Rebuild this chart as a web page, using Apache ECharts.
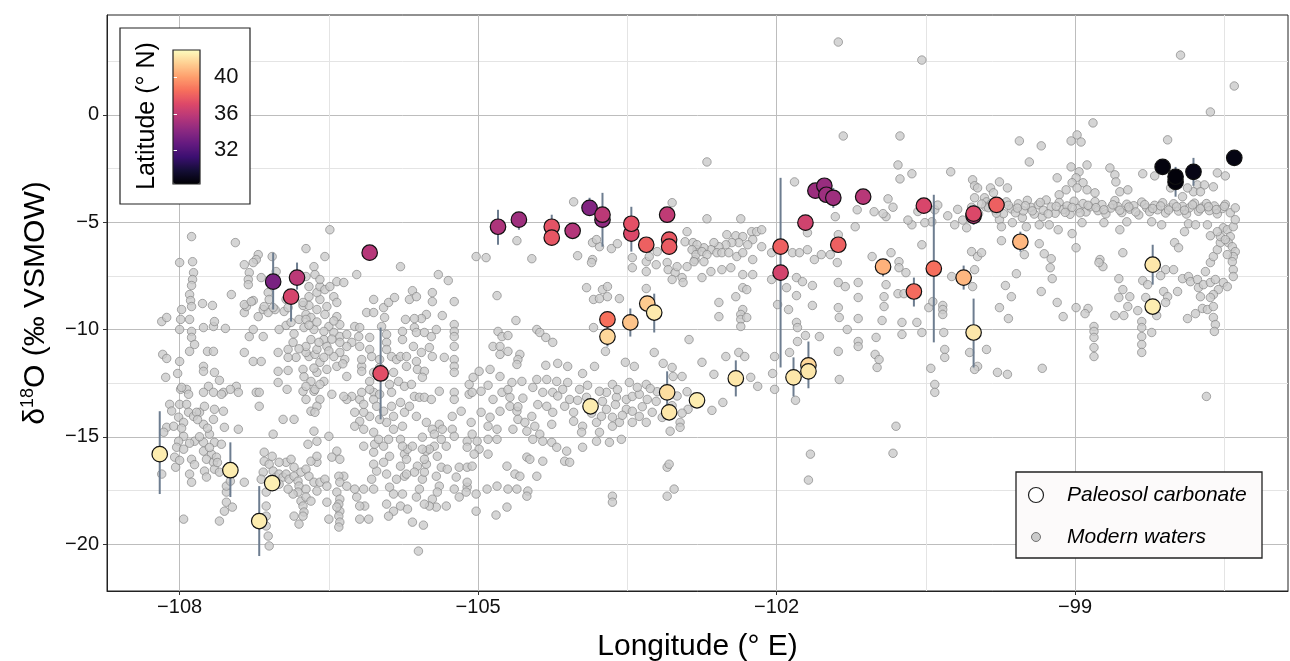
<!DOCTYPE html>
<html>
<head>
<meta charset="utf-8">
<script src="https://cdn.jsdelivr.net/npm/echarts@6/dist/echarts.min.js"></script>
<style>
  html, body { margin: 0; padding: 0; background: #ffffff; }
  #chart { width: 1290px; height: 661px; }
</style>
</head>
<body>
<div id="chart"></div>
<script>
// axis ticks
const lonTicks = [-108, -105, -102, -99];
const lonMinor = [-106.5, -103.5, -100.5, -97.5];
const isoTicks = [0, -5, -10, -15, -20];
const isoMinor = [2.5, -2.5, -7.5, -12.5, -17.5];
const latTicks = [32, 36, 40];

// paleosol carbonate: [longitude, d18O, latitude]
const paleoPoints = [
  [-108.20, -15.81, 42.5], [-107.49, -16.56, 42.5], [-107.20, -18.93, 42.5], [-107.07, -17.16, 42.6],
  [-107.06, -7.77, 33.5], [-106.88, -8.47, 36.8], [-106.82, -7.58, 35.8], [-106.09, -6.42, 35.6],
  [-105.98, -12.05, 37.3], [-104.80, -5.21, 35.3], [-104.59, -4.88, 34.8], [-104.26, -5.21, 37.5],
  [-104.26, -5.72, 37.6], [-104.05, -5.40, 35.5], [-103.88, -4.33, 33.8], [-103.75, -4.88, 34.3],
  [-103.75, -4.65, 35.8], [-103.46, -5.53, 37.0], [-103.46, -5.07, 37.4], [-103.31, -6.05, 38.0],
  [-103.10, -4.65, 36.0], [-103.08, -5.81, 37.7], [-103.08, -6.14, 37.8], [-103.70, -9.53, 38.6],
  [-103.70, -10.33, 41.8], [-103.47, -9.67, 41.2], [-103.30, -8.79, 41.4], [-103.23, -9.21, 42.4],
  [-103.10, -12.93, 42.0], [-103.08, -13.86, 42.3], [-103.87, -13.58, 42.5], [-102.80, -13.30, 42.5],
  [-102.41, -12.28, 42.3], [-101.96, -7.35, 36.7], [-101.96, -6.14, 38.0], [-101.71, -5.02, 36.6],
  [-101.61, -3.53, 34.7], [-101.52, -3.30, 34.6], [-101.50, -3.72, 34.8], [-101.43, -3.86, 34.8],
  [-101.13, -3.81, 35.7], [-101.38, -6.05, 38.0], [-100.93, -7.07, 40.6], [-100.62, -8.23, 38.4],
  [-100.42, -7.16, 38.5], [-100.12, -7.58, 40.8], [-100.02, -10.14, 42.3], [-100.52, -4.23, 36.9],
  [-100.02, -4.70, 35.6], [-100.02, -4.60, 37.0], [-99.79, -4.19, 38.0], [-99.55, -5.91, 40.8],
  [-98.22, -6.98, 42.3], [-98.22, -8.93, 42.5], [-101.83, -12.23, 42.3], [-101.68, -11.67, 41.8],
  [-101.68, -11.95, 42.3], [-98.12, -2.42, 28.6], [-97.99, -3.12, 28.5], [-97.99, -2.88, 28.5],
  [-97.81, -2.65, 28.8], [-97.40, -2.00, 28.7]
];

// paleosol uncertainty: [longitude, upper d18O, lower d18O]
const paleoErrors = [
  [-108.20, -13.81, -17.67], [-107.49, -15.26, -17.81], [-107.20, -17.30, -20.56],
  [-107.06, -6.42, -9.07], [-106.88, -8.14, -9.63], [-106.82, -6.88, -8.14],
  [-105.98, -9.91, -14.19], [-104.80, -4.42, -6.05], [-104.59, -4.56, -5.35],
  [-104.26, -4.65, -5.90], [-103.88, -3.86, -4.60], [-103.75, -3.63, -6.14],
  [-103.46, -4.28, -6.37], [-103.70, -9.30, -10.79], [-103.47, -9.02, -10.33],
  [-103.23, -8.33, -10.14], [-103.10, -11.95, -13.72], [-102.41, -11.44, -13.12],
  [-101.96, -2.93, -11.77], [-101.83, -11.30, -13.12], [-101.68, -10.56, -12.74],
  [-101.43, -3.40, -4.33], [-100.93, -6.74, -7.53], [-100.62, -7.58, -8.93],
  [-100.42, -3.72, -10.60], [-100.12, -7.02, -8.14], [-100.02, -8.56, -11.77],
  [-100.02, -4.19, -5.12], [-99.55, -5.44, -6.37], [-98.22, -6.05, -7.91],
  [-97.99, -2.42, -3.81], [-97.81, -2.00, -3.30]
];

// modern waters: [longitude, d18O]
const watersNorthWest = [
  [-107.88,-5.67],[-107.44,-5.95],[-108.0,-6.88],[-107.87,-6.84],[-107.86,-7.35],[-107.87,-7.67],[-107.88,-7.95],
  [-107.9,-8.37],[-107.89,-8.65],[-107.88,-8.93],[-107.98,-9.07],[-107.99,-9.53],[-107.9,-9.53],[-108.18,-9.63],
  [-108.13,-9.44],[-108.0,-10.0],[-107.88,-10.09],[-107.88,-10.37],[-107.85,-10.7],[-107.9,-11.02],[-108.17,-11.16],
  [-108.13,-11.35],[-108.0,-11.49],[-108.02,-12.05],[-108.14,-12.23],[-107.99,-12.79],[-107.93,-12.79],[-107.77,-8.79],
  [-107.67,-8.88],[-107.76,-9.91],[-107.66,-9.86],[-107.65,-9.63],[-107.54,-9.95],[-107.72,-11.02],[-107.66,-11.02],
  [-107.76,-11.72],[-107.76,-11.95],[-107.65,-12.0],[-107.6,-12.37],[-107.48,-8.37],[-107.71,-12.65],[-107.56,-12.93],
  [-107.43,-12.65],[-107.35,-11.07],[-107.26,-11.49],[-107.18,-11.49],[-107.26,-10.0],[-107.3,-10.33],[-107.16,-10.33],
  [-107.21,-9.4],[-107.35,-9.21],[-107.33,-8.93],[-107.26,-8.65],[-107.16,-9.07],[-107.11,-9.21],[-107.04,-9.07],
  [-106.95,-9.16],[-106.93,-9.81],[-107.01,-11.07],[-106.91,-10.93],[-106.83,-11.3],[-106.91,-11.3],[-107.01,-11.95],
  [-106.91,-11.91],[-107.01,-12.47],[-106.92,-12.79],[-106.76,-11.86],[-106.7,-11.26],[-106.73,-11.07],[-106.64,-11.16],
  [-106.59,-11.53],[-106.62,-12.0],[-106.52,-11.86],[-106.55,-12.42],[-106.68,-12.42],[-106.65,-12.88],[-106.76,-12.88],
  [-106.73,-10.79],[-106.86,-10.6],[-107.0,-10.0],[-106.88,-9.67],[-106.8,-9.53],[-106.73,-9.3],[-106.68,-9.44],
  [-106.76,-8.88],[-106.7,-8.88],[-106.62,-9.07],[-106.59,-8.6],[-106.62,-8.28],[-106.59,-8.0],[-106.54,-8.14],
  [-106.49,-8.0],[-106.42,-7.77],[-106.35,-7.81],[-106.45,-8.47],[-106.42,-8.74],[-106.52,-8.93],[-106.54,-9.3],
  [-106.42,-9.4],[-106.39,-9.77],[-106.5,-9.86],[-106.55,-10.09],[-106.45,-10.14],[-106.39,-10.33],[-106.32,-10.23],
  [-106.24,-9.86],[-106.19,-9.91],[-106.2,-10.33],[-106.27,-10.6],[-106.32,-10.79],[-106.39,-11.07],[-106.34,-11.4],
  [-106.45,-11.26],[-106.42,-11.72],[-106.32,-12.19],[-106.17,-11.72],[-106.17,-11.95],[-106.09,-10.37],[-106.05,-8.6],
  [-105.95,-8.98],[-105.9,-8.74],[-105.84,-8.51],[-106.12,-9.21],[-106.05,-9.21],[-105.94,-9.44],[-105.97,-9.86],
  [-105.92,-10.23],[-105.92,-10.6],[-105.92,-10.93],[-105.87,-11.26],[-105.82,-11.4],[-105.76,-10.09],[-105.76,-10.47],
  [-105.78,-11.26],[-106.09,-12.42],[-106.05,-12.93],[-105.89,-12.56],[-105.87,-12.93],[-105.78,-7.07],[-106.22,-7.44],
  [-106.49,-5.35],[-106.73,-6.23],[-106.54,-6.6],[-106.65,-7.07],[-106.64,-7.44],[-106.59,-7.67],[-107.21,-6.51],
  [-107.23,-6.74],[-107.35,-6.98],[-107.26,-6.88],[-107.07,-6.6],[-107.3,-7.35],[-107.31,-7.67],[-107.31,-7.91],
  [-107.18,-7.58],[-107.03,-7.3],[-106.73,-7.53],[-106.7,-8.0],[-106.7,-8.47],[-106.76,-8.74],[-107.11,-8.28],
  [-107.1,-8.6],[-107.15,-8.93],[-107.06,-8.98],[-107.35,-8.84],[-107.28,-8.7],[-106.93,-8.6],[-106.91,-8.98],
  [-106.73,-9.53],[-106.75,-9.91],[-106.65,-10.0],[-106.68,-10.47],[-106.55,-10.47],[-106.62,-10.93],[-106.52,-10.79],
  [-106.39,-10.6],[-106.19,-10.79],[-106.09,-10.93],[-106.07,-11.26],[-106.17,-11.4],[-105.99,-11.4],[-105.99,-11.77],
  [-106.05,-12.0],[-105.95,-12.19],[-105.85,-12.0],[-105.8,-12.42],[-105.74,-12.65],[-105.73,-9.53],
  [-106.85,-10.2],[-106.8,-10.9],[-106.7,-9.8],[-106.6,-10.6],[-106.5,-11.0],[-106.45,-9.6],[-106.55,-11.3],
  [-106.65,-11.8],[-106.75,-12.2],[-106.47,-10.45],[-106.62,-9.65],[-106.36,-11.6]
];

const watersSouthWest = [
  [-108.1,-13.49],[-108.0,-13.49],[-107.93,-13.49],[-108.01,-14.09],[-108.13,-14.56],[-108.16,-14.79],[-108.06,-14.51],
  [-107.96,-14.33],[-107.91,-13.86],[-107.86,-14.05],[-107.8,-13.86],[-107.96,-14.98],[-108.01,-15.21],[-108.03,-15.49],
  [-107.96,-15.58],[-108.05,-15.95],[-107.88,-16.05],[-107.85,-15.21],[-107.76,-15.26],[-107.7,-14.88],[-107.76,-15.67],
  [-107.68,-15.81],[-107.73,-16.05],[-107.66,-16.19],[-107.75,-16.6],[-107.73,-16.88],[-107.9,-16.74],[-107.88,-17.12],
  [-108.04,-16.42],[-108.18,-16.74],[-107.96,-18.84],[-107.76,-14.42],[-107.65,-15.26],[-107.63,-15.95],[-107.65,-16.51],
  [-107.6,-16.65],[-107.58,-15.35],[-107.55,-14.56],[-107.41,-14.65],[-107.66,-14.19],[-107.56,-13.81],[-107.65,-13.72],
  [-107.75,-13.58],[-107.83,-13.86],[-107.98,-12.7],[-107.91,-13.02],[-107.76,-12.93],[-107.66,-12.93],[-107.58,-13.02],
  [-107.49,-12.79],[-107.41,-12.93],[-107.53,-18.05],[-107.53,-17.58],[-107.53,-17.3],[-107.49,-17.07],[-107.55,-18.47],
  [-107.6,-18.93],[-107.47,-18.28],[-107.35,-17.12],[-107.23,-12.93],[-107.2,-12.93],[-107.2,-13.58],[-107.15,-15.72],
  [-107.15,-16.14],[-107.16,-16.65],[-107.18,-16.98],[-107.13,-17.58],[-107.13,-18.7],[-107.13,-19.16],[-107.11,-19.63],
  [-107.1,-20.09],[-107.13,-18.23],[-107.06,-14.88],[-107.1,-16.28],[-107.06,-16.6],[-107.03,-16.88],[-107.0,-16.74],
  [-106.96,-16.88],[-106.93,-16.74],[-106.9,-16.98],[-106.85,-16.84],[-106.81,-17.07],[-106.8,-17.3],[-106.81,-17.58],
  [-106.86,-17.67],[-106.91,-17.44],[-107.0,-17.21],[-106.93,-16.19],[-106.88,-16.05],[-106.85,-16.42],[-106.78,-16.65],
  [-106.73,-16.51],[-106.7,-16.84],[-106.65,-17.12],[-106.73,-17.44],[-106.78,-18.0],[-106.76,-18.23],[-106.75,-18.51],
  [-106.85,-18.7],[-106.8,-19.07],[-106.73,-17.81],[-106.68,-18.0],[-106.62,-17.53],[-106.59,-17.12],[-106.54,-16.98],
  [-106.52,-17.3],[-106.62,-16.19],[-106.68,-16.14],[-106.62,-15.91],[-106.62,-15.21],[-106.71,-15.35],[-106.65,-14.74],
  [-106.5,-14.98],[-106.42,-15.67],[-106.47,-15.95],[-106.39,-16.05],[-106.35,-16.84],[-106.4,-16.84],[-106.39,-17.12],
  [-106.42,-17.58],[-106.39,-17.91],[-106.4,-18.14],[-106.39,-18.47],[-106.4,-18.7],[-106.39,-18.98],[-106.4,-19.21],
  [-106.32,-17.3],[-106.52,-18.05],[-106.42,-18.28],[-106.22,-17.81],[-106.14,-18.23],[-106.1,-18.84],[-106.19,-18.23],
  [-106.24,-17.44],[-106.15,-17.44],[-106.05,-17.44],[-106.07,-16.98],[-106.02,-16.6],[-106.05,-16.28],[-105.95,-16.19],
  [-105.92,-16.74],[-105.89,-17.35],[-105.85,-17.67],[-105.92,-18.14],[-105.85,-18.47],[-105.9,-18.7],[-105.78,-18.23],
  [-105.82,-16.98],[-105.74,-16.84],[-105.78,-16.37],[-105.89,-15.91],[-105.74,-15.81],[-106.05,-15.72],[-106.04,-15.35],
  [-106.15,-15.44],[-105.95,-15.44],[-105.9,-15.12],[-105.78,-15.12],[-105.76,-14.51],[-105.85,-14.65],[-105.92,-14.33],
  [-105.99,-14.19],[-106.09,-14.05],[-106.19,-14.28],[-106.24,-14.51],[-106.15,-14.65],[-106.05,-14.79],[-106.0,-15.12],
  [-106.15,-13.86],[-106.24,-13.86],[-106.19,-13.26],[-106.15,-13.49],[-106.05,-13.26],[-105.99,-13.02],[-106.02,-13.58],
  [-105.95,-13.81],[-105.87,-13.58],[-105.78,-13.4],[-105.74,-13.86],[-105.85,-14.05],[-106.09,-12.79],[-106.17,-12.93],
  [-106.27,-13.12],[-106.32,-13.26],[-106.35,-13.12],[-106.47,-13.02],[-106.68,-13.81],[-106.73,-13.26],[-106.73,-12.65],
  [-106.64,-12.79],[-106.59,-13.26],[-106.62,-13.58],[-106.64,-13.86],[-106.59,-12.56],[-106.5,-18.84],[-106.19,-18.84],
  [-106.76,-18.7],[-106.96,-14.19],[-106.85,-14.19],[-107.07,-15.91],[-107.0,-16.19],
  [-108.08,-13.8],[-107.98,-14.6],[-107.9,-15.3],[-107.82,-14.2],[-107.72,-14.6],[-107.62,-16.2],[-107.85,-16.3],
  [-108.0,-16.1],[-107.7,-15.5],[-107.8,-15.0]
];

const watersCentral = [
  [-105.02,-6.60],[-104.92,-6.65],[-104.46,-6.70],[-104.61,-5.86],[-105.4,-7.44],[-105.3,-7.72],[-105.66,-8.19],
  [-105.69,-8.60],[-105.62,-8.47],[-105.46,-8.28],[-105.46,-8.70],[-105.24,-8.70],[-104.81,-8.42],[-105.36,-9.35],
  [-105.52,-9.30],[-105.57,-9.49],[-105.64,-9.49],[-105.64,-9.91],[-105.62,-10.14],[-105.54,-10.14],[-105.47,-10.33],
  [-105.42,-10.0],[-105.24,-9.77],[-105.24,-10.09],[-105.24,-10.33],[-105.24,-10.79],[-105.24,-11.40],[-105.24,-11.72],
  [-105.24,-12.0],[-104.62,-9.58],[-104.8,-10.09],[-104.76,-10.33],[-104.7,-10.28],[-104.85,-10.79],[-104.78,-10.79],
  [-104.78,-11.16],[-104.7,-11.02],[-104.58,-11.16],[-104.6,-11.40],[-104.61,-11.63],[-104.41,-10.0],[-104.38,-10.14],
  [-104.32,-10.37],[-104.25,-10.60],[-104.32,-11.67],[-104.2,-11.58],[-104.1,-11.72],[-103.95,-12.05],[-103.83,-11.72],
  [-105.65,-10.79],[-105.49,-10.84],[-105.72,-11.26],[-105.57,-11.07],[-105.46,-11.26],[-105.62,-11.49],[-105.72,-11.72],
  [-105.61,-11.86],[-105.54,-11.95],[-105.67,-12.56],[-105.56,-12.23],[-105.34,-11.30],[-105.39,-12.88],[-105.24,-12.93],
  [-105.09,-12.56],[-105.05,-12.23],[-104.99,-11.95],[-104.88,-11.86],[-104.78,-12.19],[-104.66,-12.47],[-104.56,-12.42],
  [-104.41,-12.33],[-104.31,-12.33],[-104.21,-12.42],[-104.1,-12.47],[-103.75,-8.14],[-103.7,-8.0],[-103.91,-8.05],
  [-103.84,-8.60],[-103.78,-8.56],[-103.7,-8.47],[-103.58,-8.56],[-103.31,-8.09],[-103.84,-9.91],[-103.72,-11.02],
  [-103.52,-11.53],[-103.43,-11.72],[-103.23,-11.07],[-103.14,-11.58],[-103.05,-11.77],[-103.04,-12.19],[-102.95,-12.19],
  [-102.88,-10.47],[-104.0,-6.56],[-103.85,-5.95],[-103.78,-6.14],[-103.66,-6.23],[-103.6,-6.0],[-103.85,-6.74],
  [-103.86,-6.88],[-103.81,-5.81],[-103.45,-6.65],[-103.45,-7.12],[-103.31,-6.84],[-103.31,-7.30],[-103.21,-6.98],
  [-103.1,-6.88],[-103.09,-7.21],[-103.02,-7.35],[-103.0,-7.07],[-102.95,-7.58],[-102.94,-7.81],[-103.05,-7.67],
  [-102.9,-7.07],[-102.9,-5.44],[-102.92,-5.91],[-102.84,-5.95],[-102.82,-6.74],[-102.8,-6.28],[-103.2,-6.37],
  [-103.05,-4.09],[-104.04,-4.05],[-103.28,-6.60],
  [-105.64,-13.12],[-105.59,-13.16],[-105.54,-13.16],[-105.47,-13.26],[-105.69,-13.58],[-105.62,-14.05],[-105.52,-14.33],
  [-105.46,-14.65],[-105.39,-14.42],[-105.36,-14.65],[-105.26,-14.65],[-105.24,-14.98],[-105.24,-13.26],[-105.26,-14.05],
  [-105.17,-13.81],[-105.09,-13.02],[-105.06,-12.93],[-104.97,-12.88],[-104.97,-13.86],[-105.07,-14.33],[-105.06,-14.88],
  [-105.01,-15.21],[-105.11,-15.21],[-105.11,-15.49],[-104.99,-15.58],[-105.04,-15.81],[-104.9,-15.81],[-104.9,-15.12],
  [-104.81,-15.12],[-104.81,-14.65],[-104.9,-14.51],[-104.88,-14.09],[-104.78,-13.81],[-104.85,-13.26],[-104.76,-12.93],
  [-104.68,-13.16],[-104.68,-13.58],[-104.61,-13.81],[-104.6,-14.19],[-104.65,-14.65],[-104.51,-14.74],[-104.53,-14.33],
  [-104.46,-14.05],[-104.43,-14.51],[-104.38,-14.88],[-104.45,-15.12],[-104.35,-15.21],[-104.26,-15.26],[-104.21,-15.49],
  [-104.11,-15.67],[-104.13,-16.14],[-104.08,-16.19],[-104.26,-14.42],[-104.25,-13.86],[-104.31,-13.58],[-104.35,-12.93],
  [-104.25,-12.93],[-104.15,-12.79],[-104.08,-13.26],[-104.13,-13.58],[-104.04,-13.86],[-104.04,-14.28],[-103.95,-14.51],
  [-103.96,-14.79],[-103.81,-14.33],[-103.78,-14.79],[-103.76,-14.05],[-103.71,-13.72],[-103.65,-14.09],[-103.65,-14.51],
  [-103.58,-14.33],[-103.68,-15.26],[-103.81,-15.21],[-103.95,-15.49],[-103.56,-15.12],[-103.51,-13.72],[-103.45,-13.81],
  [-103.38,-14.05],[-103.45,-14.33],[-103.31,-14.33],[-103.51,-13.26],[-103.45,-13.12],[-103.61,-13.16],[-103.71,-12.93],
  [-103.65,-12.56],[-103.78,-12.88],[-103.91,-13.16],[-103.98,-12.79],[-103.38,-13.02],[-103.3,-13.26],[-103.21,-13.35],
  [-103.31,-12.56],[-103.48,-12.47],[-103.25,-13.86],[-102.97,-14.33],[-102.97,-14.56],[-102.89,-13.72],[-103.07,-14.74],
  [-103.1,-16.42],[-103.08,-16.28],[-103.03,-17.44],[-103.1,-17.77],[-103.65,-17.77],[-103.65,-18.05],[-104.51,-15.95],
  [-104.48,-16.05],[-104.35,-16.14],[-104.71,-16.37],[-104.63,-16.74],[-104.58,-16.84],[-104.41,-16.84],[-104.81,-17.30],
  [-104.91,-17.44],[-105.02,-17.67],[-105.11,-17.35],[-105.02,-18.47],[-104.82,-18.65],[-104.71,-18.28],[-104.7,-17.44],
  [-104.61,-17.44],[-104.5,-17.53],[-104.51,-17.77],[-105.19,-16.42],[-105.11,-16.42],[-105.06,-16.37],[-105.22,-16.88],
  [-105.24,-17.44],[-105.19,-17.81],[-105.32,-18.23],[-105.11,-17.12],[-105.12,-17.58],[-105.37,-16.42],[-105.31,-16.51],
  [-105.42,-16.84],[-105.39,-17.30],[-105.41,-17.58],[-105.46,-17.91],[-105.42,-18.28],[-105.49,-18.23],[-105.54,-18.14],
  [-105.62,-17.81],[-105.59,-17.44],[-105.56,-16.98],[-105.54,-16.65],[-105.52,-16.28],[-105.54,-16.05],[-105.52,-15.67],
  [-105.44,-15.44],[-105.41,-15.91],[-105.61,-16.37],[-105.64,-16.65],[-105.72,-16.74],[-105.76,-17.67],[-105.71,-18.37],
  [-105.66,-18.98],[-105.55,-19.12],[-105.6,-20.33],[-105.72,-16.05],[-105.71,-15.58],[-105.76,-15.44],[-105.66,-15.44],
  [-105.49,-15.58],[-105.32,-15.44],[-105.37,-15.12],[-105.44,-14.88],[-105.56,-15.02],[-105.56,-15.58],
  [-103.9,-12.6],[-103.86,-13.9],[-103.6,-12.8],[-103.55,-14.0],[-103.4,-12.7],[-103.35,-13.6],[-103.2,-12.9],
  [-103.15,-14.1],[-103.0,-13.1],[-102.95,-13.9],[-103.75,-13.35],[-103.62,-13.5],[-103.27,-12.75],[-102.9,-12.9],
  [-103.05,-13.55],[-104.7,-12.8],[-104.55,-13.2],[-104.45,-12.7],[-104.4,-13.5],[-104.2,-13.1],[-104.0,-13.3],
  [-104.6,-13.6],[-104.9,-12.6]
];

const watersPlains = [
  [-102.7,-4.84],[-102.36,-4.84],[-102.5,-5.58],[-102.41,-5.63],[-102.34,-5.67],[-102.25,-5.44],[-102.2,-5.44],
  [-102.15,-5.35],[-102.24,-5.81],[-102.29,-6.05],[-102.38,-5.95],[-102.45,-5.95],[-102.51,-6.05],[-102.58,-6.14],
  [-102.63,-5.95],[-102.66,-6.28],[-102.73,-6.19],[-102.8,-6.05],[-102.85,-6.28],[-102.81,-6.51],[-102.75,-6.37],
  [-102.7,-6.51],[-102.6,-6.42],[-102.55,-6.42],[-102.48,-6.42],[-102.4,-6.60],[-102.34,-6.42],[-102.24,-6.74],
  [-102.15,-6.14],[-102.05,-6.42],[-102.83,-6.84],[-102.73,-6.84],[-102.66,-7.30],[-102.55,-7.21],[-102.46,-7.12],
  [-102.34,-7.44],[-102.24,-7.44],[-102.75,-7.58],[-102.34,-8.05],[-102.3,-8.14],[-102.41,-8.47],[-102.58,-8.74],
  [-102.34,-9.07],[-102.36,-9.30],[-102.36,-9.53],[-102.36,-9.86],[-102.3,-9.44],[-102.58,-9.40],[-102.51,-11.26],
  [-102.38,-11.07],[-102.32,-11.26],[-102.75,-11.53],[-102.63,-12.09],[-102.26,-12.23],[-102.19,-12.65],[-102.02,-12.79],
  [-102.04,-12.05],[-102.02,-11.26],[-101.87,-11.07],[-101.79,-10.56],[-101.71,-10.28],[-101.57,-10.33],[-101.8,-9.67],
  [-101.79,-9.91],[-101.88,-9.07],[-101.8,-8.42],[-102.05,-7.67],[-101.9,-8.05],[-101.99,-8.84],[-101.8,-7.58],
  [-101.74,-7.77],[-101.84,-6.42],[-101.77,-6.42],[-101.69,-6.28],[-101.69,-5.49],[-101.62,-6.74],[-101.64,-7.95],
  [-101.64,-8.88],[-101.55,-6.51],[-101.46,-6.51],[-101.39,-6.88],[-101.38,-7.81],[-101.31,-8.0],[-101.18,-7.81],
  [-101.18,-8.51],[-101.38,-8.98],[-101.37,-9.44],[-101.18,-9.49],[-101.29,-10.0],[-101.18,-10.56],[-101.18,-10.79],
  [-101.38,-11.02],[-101.01,-11.16],[-100.97,-11.40],[-100.99,-11.77],[-101.0,-10.37],[-100.94,-9.58],[-100.92,-8.47],
  [-100.92,-8.93],[-100.9,-7.91],[-100.85,-6.42],[-101.04,-6.60],[-100.77,-6.84],[-100.77,-7.12],[-100.7,-7.35],
  [-100.78,-8.33],[-100.72,-8.33],[-100.74,-9.67],[-100.74,-10.23],[-100.59,-9.67],[-100.54,-10.14],[-100.47,-8.98],
  [-100.43,-8.70],[-100.33,-8.88],[-100.33,-9.07],[-100.33,-9.30],[-100.32,-10.14],[-100.31,-10.93],[-100.31,-11.30],
  [-100.45,-11.81],[-100.41,-12.56],[-100.41,-12.93],[-100.54,-6.05],[-100.41,-4.42],[-100.44,-4.98],[-100.51,-5.02],
  [-100.64,-5.12],[-100.9,-4.74],[-101.02,-4.51],[-101.19,-4.42],[-101.21,-5.21],[-101.41,-4.74],[-101.38,-5.58],
  [-100.21,-5.12],[-100.09,-5.26],[-100.04,-6.37],[-99.98,-6.60],[-99.94,-6.42],[-100.03,-8.0],[-100.01,-7.21],
  [-100.24,-7.53],[-100.06,-11.07],[-99.98,-11.72],[-100.01,-11.86],[-99.89,-10.93],
  [-101.38,3.40],[-100.54,2.56],[-102.7,-2.19],[-101.33,-0.98],[-100.76,-0.98],[-100.78,-2.33],[-100.64,-2.74],
  [-100.76,-2.98],[-100.25,-2.65],[-100.03,-3.02],[-100.01,-3.30],[-99.98,-3.40],[-100.01,-3.86],[-99.91,-3.86],
  [-99.89,-4.05],[-100.88,-3.91],[-101.82,-3.12],
  [-101.81,-13.30],[-102.65,-13.77],[-102.54,-13.40],[-101.66,-15.81],[-101.68,-17.02],[-100.8,-14.51],[-100.83,-15.77],
  [-101.37,-12.33]
];

const watersEast = [
  [-97.94,2.79],[-97.4,1.35],[-97.64,0.14],[-98.82,-0.37],[-99.56,-1.21],[-99.34,-1.44],[-99.04,-1.21],[-98.98,-0.93],
  [-98.94,-1.26],[-99.46,-2.19],[-99.04,-2.42],[-98.88,-2.33],[-98.96,-2.65],[-98.99,-2.93],[-98.92,-3.16],[-99.03,-3.16],
  [-99.09,-3.49],[-98.98,-3.40],[-98.88,-3.49],[-98.8,-3.63],[-99.18,-2.93],[-99.16,-3.72],[-98.65,-2.47],[-98.6,-2.79],
  [-98.59,-3.12],[-98.32,-2.74],[-98.2,-2.84],[-98.07,-1.16],[-98.04,-3.40],[-97.92,-3.81],[-97.77,-3.26],[-97.7,-3.26],
  [-97.61,-3.35],[-97.57,-2.70],[-97.49,-2.84],[-97.81,-3.58],[-97.74,-3.58],[-97.87,-3.40],[-98.55,-3.58],[-98.47,-3.49],
  [-99.85,-3.40],[-99.82,-3.63],[-99.76,-3.12],[-99.68,-3.40],
  [-99.74,-5.86],[-99.51,-6.51],[-99.36,-6.0],[-99.31,-6.47],[-99.24,-6.70],[-99.25,-7.12],[-99.23,-7.63],[-99.59,-7.40],
  [-99.7,-7.95],[-99.64,-8.47],[-99.34,-8.23],[-99.18,-8.74],[-99.12,-9.40],[-99.76,-8.98],[-99.67,-9.49],[-99.78,-12.0],
  [-99.68,-12.09],[-99.33,-11.81],[-98.99,-6.19],[-99.03,-5.53],[-98.99,-8.98],[-98.87,-9.02],[-98.9,-9.26],[-98.75,-6.74],
  [-98.72,-7.07],[-98.76,-6.88],[-98.81,-9.86],[-98.81,-10.09],[-98.81,-10.37],[-98.81,-10.84],[-98.81,-11.26],[-98.6,-9.35],
  [-98.51,-9.35],[-98.47,-8.93],[-98.56,-8.51],[-98.52,-8.14],[-98.45,-8.47],[-98.56,-7.63],[-98.52,-6.42],[-98.32,-7.72],
  [-98.27,-7.91],[-98.29,-8.51],[-98.37,-9.12],[-98.33,-9.63],[-98.33,-9.91],[-98.33,-10.33],[-98.33,-10.70],[-98.33,-11.07],
  [-98.23,-10.14],[-98.18,-9.35],[-98.09,-7.21],[-98.01,-7.21],[-98.14,-7.49],[-98.11,-8.23],[-98.07,-8.47],[-98.09,-8.74],
  [-97.97,-8.23],[-97.87,-9.49],[-97.79,-9.26],[-97.72,-9.02],[-97.67,-9.07],[-97.61,-8.93],[-97.61,-9.44],[-97.59,-9.77],
  [-97.6,-10.09],[-98.0,-5.95],[-97.96,-6.19],[-97.9,-5.44],[-97.92,-7.63],[-97.86,-7.53],[-97.84,-7.77],[-97.77,-7.67],
  [-97.76,-8.05],[-97.71,-7.91],[-97.64,-7.81],[-97.59,-7.67],[-97.51,-7.81],[-97.47,-8.0],[-97.56,-8.14],[-97.61,-8.37],
  [-97.64,-8.51],[-97.74,-8.47],[-97.69,-7.30],[-97.64,-6.88],[-97.61,-6.60],[-97.57,-6.28],[-97.54,-5.95],[-97.54,-5.67],
  [-97.51,-5.26],[-97.47,-5.35],[-97.44,-5.67],[-97.46,-5.95],[-97.42,-6.14],[-97.39,-6.37],[-97.41,-6.60],[-97.42,-6.84],
  [-97.41,-7.21],[-97.41,-7.53],[-97.47,-6.51],[-97.49,-5.81],[-97.41,-5.21],[-97.39,-4.88],[-97.44,-4.56],[-97.39,-4.33],
  [-97.64,-5.63],[-97.57,-5.44],[-97.68,-13.12],
  [-99.9,-4.28],[-99.76,-4.88],[-99.74,-5.21],[-99.63,-5.02],[-99.53,-4.79],[-99.49,-5.21],[-99.36,-5.12],[-99.33,-4.74],
  [-99.26,-5.12],[-99.17,-5.35],[-98.93,-5.02],[-98.71,-5.02],[-98.55,-5.35],[-98.48,-4.98],[-98.23,-4.98],[-98.13,-5.12],
  [-97.86,-5.07],[-97.79,-5.12],[-97.67,-5.12]
];

const watersBand = [
  [-99.84,-4.12],[-99.8,-4.45],[-99.77,-4.22],[-99.72,-4.6],[-99.69,-4.05],[-99.64,-4.38],[-99.6,-4.56],[-99.57,-4.14],
  [-99.52,-4.47],[-99.48,-3.98],[-99.44,-4.31],[-99.41,-4.62],[-99.37,-4.19],[-99.32,-4.44],[-99.29,-3.96],[-99.24,-4.29],
  [-99.2,-4.58],[-99.16,-4.08],[-99.12,-4.41],[-99.08,-4.24],[-99.05,-4.63],[-99.01,-4.02],[-98.97,-4.36],[-98.92,-4.13],
  [-98.89,-4.52],[-98.85,-4.28],[-98.8,-4.04],[-98.77,-4.46],[-98.73,-4.18],[-98.69,-4.61],[-98.64,-4.34],[-98.6,-3.99],
  [-98.57,-4.27],[-98.53,-4.55],[-98.48,-4.16],[-98.45,-4.39],[-98.41,-4.23],[-98.36,-4.66],[-98.33,-4.06],[-98.28,-4.33],
  [-98.25,-4.51],[-98.2,-4.21],[-98.17,-4.42],[-98.12,-4.09],[-98.09,-4.57],[-98.04,-4.31],[-98.01,-4.14],[-97.96,-4.48],
  [-97.92,-4.26],[-97.88,-4.62],[-97.85,-4.33],[-97.8,-4.11],[-97.76,-4.49],[-97.72,-4.29],[-97.68,-4.13],[-97.65,-4.46],
  [-97.6,-4.24],[-97.57,-4.61],[-97.52,-4.36],[-97.49,-4.17],
  [-99.87,-4.32],[-99.79,-4.58],[-99.67,-4.21],[-99.58,-4.34],[-99.5,-4.23],[-99.43,-4.47],[-99.35,-4.08],[-99.27,-4.61],
  [-99.19,-4.26],[-99.1,-4.54],[-99.03,-4.31],[-98.95,-4.56],[-98.87,-4.21],[-98.79,-4.32],[-98.71,-4.42],[-98.62,-4.19],
  [-98.55,-4.44],[-98.46,-4.29],[-98.39,-4.52],[-98.3,-4.18],[-98.22,-4.36],[-98.14,-4.24],[-98.06,-4.43],[-97.98,-4.28],
  [-97.9,-4.44],[-97.82,-4.19],[-97.74,-4.37],[-97.66,-4.28],[-97.58,-4.41],[-97.5,-4.26],
  [-100.93,-4.6],[-100.83,-4.3],[-100.68,-4.9],[-100.58,-4.5],[-100.38,-4.2],[-100.28,-4.7],[-100.18,-4.4],[-100.13,-4.9],
  [-100.04,-4.3],[-99.97,-4.6],[-99.94,-4.15]
];

const magma = ['#000004', '#140e36', '#3b0f70', '#641a80', '#8c2981', '#b73779',
               '#de4968', '#f7705c', '#fe9f6d', '#fecf92', '#fcfdbf'];

const FONT = "'Liberation Sans', Arial, Helvetica, sans-serif";
const minus = v => (v < 0 ? '\u2212' + Math.abs(v) : String(v));

const chart = echarts.init(document.getElementById('chart'));

chart.setOption({
  animation: false,
  backgroundColor: '#ffffff',
  textStyle: { fontFamily: FONT },
  grid: [
    { left: 107, right: 2, top: 15, bottom: 70, show: true, borderColor: '#222', borderWidth: 1,
      backgroundColor: 'transparent', containLabel: false, outerBoundsMode: 'none' },
    { left: 173, top: 50, width: 27, height: 134, show: false, containLabel: false, outerBoundsMode: 'none' }
  ],
  xAxis: [
    {
      type: 'value', gridIndex: 0, min: -108.73, max: -96.86,
      name: 'Longitude (\u00b0 E)', nameLocation: 'middle', nameGap: 41,
      nameTextStyle: { fontSize: 30, color: '#000', fontFamily: FONT },
      axisLine: { show: true, onZero: false, lineStyle: { color: '#222', width: 1 } },
      axisTick: { show: true, length: 4, lineStyle: { color: '#333' }, customValues: lonTicks },
      axisLabel: { customValues: lonTicks, formatter: minus, fontSize: 20, color: '#111', margin: 6, fontFamily: FONT },
      splitLine: { show: true, lineStyle: { color: '#bdbdbd', width: 1 } }
    },
    {
      type: 'value', gridIndex: 0, position: 'top', min: -108.73, max: -96.86,
      axisLine: { show: false, onZero: false },
      axisTick: { show: false, customValues: lonMinor },
      axisLabel: { show: false, customValues: lonMinor },
      splitLine: { show: true, lineStyle: { color: '#e4e4e4', width: 1 } }
    },
    { type: 'value', gridIndex: 1, min: 0, max: 1, show: false }
  ],
  yAxis: [
    {
      type: 'value', gridIndex: 0, min: -22.19, max: 4.66,
      name: '\u03b4{sup|18}O (\u2030 VSMOW)', nameLocation: 'middle', nameGap: 54,
      nameTextStyle: {
        fontSize: 30, color: '#000', fontFamily: FONT, lineHeight: 34,
        rich: { sup: { fontSize: 18, lineHeight: 20, verticalAlign: 'top', color: '#000', fontFamily: FONT } }
      },
      axisLine: { show: true, onZero: false, lineStyle: { color: '#222', width: 1 } },
      axisTick: { show: true, length: 4, lineStyle: { color: '#333' }, customValues: isoTicks },
      axisLabel: { customValues: isoTicks, formatter: minus, fontSize: 20, color: '#111', margin: 8, fontFamily: FONT },
      splitLine: { show: true, lineStyle: { color: '#bdbdbd', width: 1 } }
    },
    {
      type: 'value', gridIndex: 0, position: 'right', min: -22.19, max: 4.66,
      axisLine: { show: false, onZero: false },
      axisTick: { show: false, customValues: isoMinor },
      axisLabel: { show: false, customValues: isoMinor },
      splitLine: { show: true, lineStyle: { color: '#e4e4e4', width: 1 } }
    },
    {
      type: 'value', gridIndex: 1, position: 'right', min: 28.3, max: 43, z: 14,
      axisLine: { show: false },
      axisTick: { show: true, inside: true, length: 4, lineStyle: { color: '#ffffff', width: 1 }, customValues: latTicks },
      axisLabel: { customValues: latTicks, fontSize: 22, color: '#111', margin: 14, fontFamily: FONT },
      splitLine: { show: false }
    },
    {
      type: 'value', gridIndex: 1, position: 'left', min: 28.3, max: 43, z: 14,
      axisLine: { show: false },
      axisTick: { show: true, inside: true, length: 4, lineStyle: { color: '#ffffff', width: 1 }, customValues: latTicks },
      axisLabel: { show: false, customValues: latTicks },
      splitLine: { show: false }
    }
  ],
  visualMap: {
    type: 'continuous', min: 28.3, max: 43, dimension: 2, seriesIndex: 2,
    orient: 'vertical', left: 173, top: 50, itemWidth: 27, itemHeight: 134,
    calculable: false, hoverLink: false, padding: 0, z: 12,
    inRange: { color: magma }
  },
  graphic: [
    { type: 'rect', shape: { x: 120, y: 28, width: 130, height: 176 }, style: { fill: '#ffffff', stroke: '#222', lineWidth: 1.2 }, z: 6 },
    { type: 'rect', shape: { x: 173, y: 50, width: 27, height: 134 }, style: { fill: 'none', stroke: '#222', lineWidth: 1.2 }, z: 15 },
    { type: 'text', x: 147, y: 116, rotation: Math.PI / 2, z: 15,
      style: { text: 'Latitude (\u00b0 N)', font: '25px ' + FONT, fill: '#000', textAlign: 'center', textVerticalAlign: 'middle' } },
    { type: 'rect', shape: { x: 1016, y: 472, width: 246, height: 86 }, style: { fill: '#fcfafa', stroke: '#222', lineWidth: 1.3 }, z: 20 },
    { type: 'circle', shape: { cx: 1036, cy: 495, r: 7.5 }, style: { fill: '#ffffff', stroke: '#222', lineWidth: 1.2 }, z: 21 },
    { type: 'circle', shape: { cx: 1036, cy: 537, r: 4.5 }, style: { fill: '#cbcbcb', stroke: '#555', lineWidth: 0.8 }, z: 21 },
    { type: 'text', x: 1067, y: 495, z: 21,
      style: { text: 'Paleosol carbonate', font: 'italic 21px ' + FONT, fill: '#000', textVerticalAlign: 'middle' } },
    { type: 'text', x: 1067, y: 537, z: 21,
      style: { text: 'Modern waters', font: 'italic 21px ' + FONT, fill: '#000', textVerticalAlign: 'middle' } }
  ],
  series: [
    {
      name: 'Modern waters', type: 'scatter', xAxisIndex: 0, yAxisIndex: 0,
      data: [].concat(watersNorthWest, watersSouthWest, watersCentral, watersPlains, watersEast, watersBand),
      symbol: 'circle', symbolSize: 8.5, progressive: 0, z: 2,
      itemStyle: { color: '#cbcbcb', borderColor: '#7d7d7d', borderWidth: 0.8 }
    },
    {
      name: 'errors', type: 'custom', xAxisIndex: 0, yAxisIndex: 0, z: 3,
      data: paleoErrors,
      encode: { x: 0, y: [1, 2] },
      renderItem: (params, api) => {
        const a = api.coord([api.value(0), api.value(1)]);
        const b = api.coord([api.value(0), api.value(2)]);
        return { type: 'line', shape: { x1: a[0], y1: a[1], x2: b[0], y2: b[1] },
                 style: { stroke: '#6d7d90', lineWidth: 2 } };
      }
    },
    {
      name: 'Paleosol carbonate', type: 'scatter', xAxisIndex: 0, yAxisIndex: 0,
      data: paleoPoints, symbol: 'circle', symbolSize: 15.5, progressive: 0, z: 4,
      itemStyle: { borderColor: '#111', borderWidth: 1.2, opacity: 1 }
    }
  ]
});
</script>
</body>
</html>
